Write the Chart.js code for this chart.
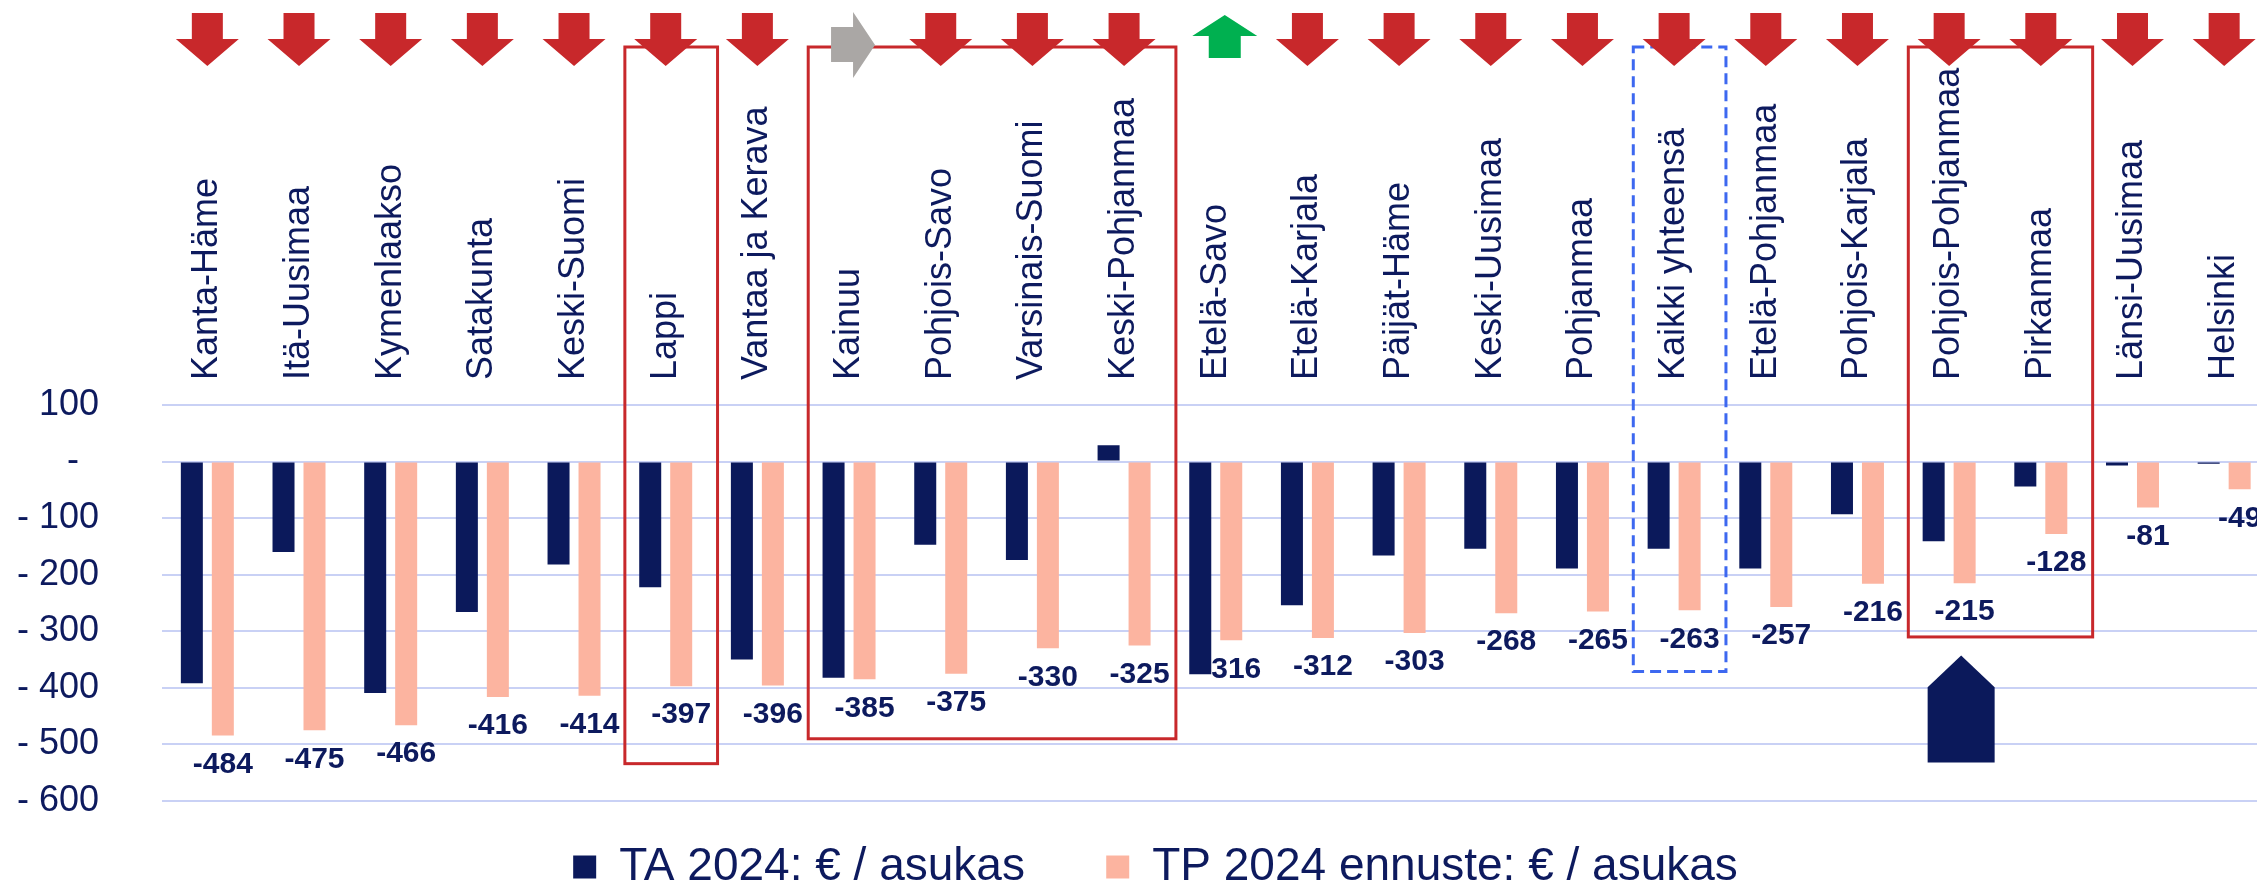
<!DOCTYPE html>
<html><head><meta charset="utf-8">
<script src="https://cdn.jsdelivr.net/npm/chart.js@4.4.1/dist/chart.umd.min.js"></script>
<style>
html,body{margin:0;padding:0;background:#ffffff;overflow:hidden}
#wrap{width:2257px;height:889px;overflow:hidden;position:relative;background:#fff}
canvas{display:block}
</style>
</head><body>
<div id="wrap"><canvas id="c" width="2270" height="900"></canvas></div>
<script>
// ---- data ----
const categories = ['Kanta-Häme','Itä-Uusimaa','Kymenlaakso','Satakunta','Keski-Suomi','Lappi','Vantaa ja Kerava','Kainuu','Pohjois-Savo','Varsinais-Suomi','Keski-Pohjanmaa','Etelä-Savo','Etelä-Karjala','Päijät-Häme','Keski-Uusimaa','Pohjanmaa','Kaikki yhteensä','Etelä-Pohjanmaa','Pohjois-Karjala','Pohjois-Pohjanmaa','Pirkanmaa','Länsi-Uusimaa','Helsinki'];
const taValues = [-392,-160,-409,-266,-182,-222,-350,-382,-147,-174,29,-376,-254,-166,-154,-189,-154,-189,-93,-141,-44,-7,-4];
const tpValues = [-484,-475,-466,-416,-414,-397,-396,-385,-375,-330,-325,-316,-312,-303,-268,-265,-263,-257,-216,-215,-128,-81,-49];
const trend = ['down','down','down','down','down','down','down','right','down','down','down','up','down','down','down','down','down','down','down','down','down','down','down'];
const seriesNames = ['TA 2024: € / asukas','TP 2024 ennuste: € / asukas'];
const yTickValues = [100,0,-100,-200,-300,-400,-500,-600];

// ---- annotations (highlight frames, marker) ----
const frames = [
  {from:5, to:5, bottom:-534, kind:'red'},
  {from:7, to:10, bottom:-490, kind:'red'},
  {from:16, to:16, bottom:-371, kind:'blue'},
  {from:19, to:20, bottom:-310, kind:'red'}
];
const marker = {index:19, tip:-343, shoulder:-399, bottom:-532};

const NAVY = '#0b195b';
const SALMON = '#fcb4a0';
const TEXT = '#0d1a5e';
const RED = '#c8282b';
const FONT = '"Liberation Sans", Arial, sans-serif';
const Y_FONT_SIZE = 36;

function yLabel(v){ if (v === 0) return '-\u00a0\u00a0'; if (v < 0) return '- ' + Math.abs(v); return String(v); }

// widest y label (used to right-align mirrored labels outside the plot)
const mctx = document.createElement('canvas').getContext('2d');
mctx.font = Y_FONT_SIZE + 'px ' + FONT;
const widestY = Math.max(...yTickValues.map(v => mctx.measureText(yLabel(v)).width));

const valueLabels = {
  id:'valueLabels',
  beforeDatasetsDraw(chart){
    const ctx = chart.ctx, meta = chart.getDatasetMeta(1);
    ctx.save();
    ctx.font = 'bold 30px ' + FONT;
    ctx.fillStyle = TEXT;
    ctx.textAlign = 'center';
    ctx.textBaseline = 'middle';
    meta.data.forEach((bar,i)=>{
      ctx.fillText(String(tpValues[i]), bar.x, bar.y + 29);
    });
    ctx.restore();
  }
};

const decorations = {
  id:'decorations',
  afterDraw(chart){
    const ctx = chart.ctx, xs = chart.scales.x, ys = chart.scales.y;
    const cw = xs.getPixelForValue(1) - xs.getPixelForValue(0);
    ctx.save();
    frames.forEach(f=>{
      const l = xs.getPixelForValue(f.from) - cw/2 + 5;
      const r = xs.getPixelForValue(f.to) + cw/2 + 6;
      const t = 47, b = ys.getPixelForValue(f.bottom);
      ctx.lineWidth = 3;
      if (f.kind === 'blue') { ctx.strokeStyle = '#3d68f0'; ctx.setLineDash([11,6]); }
      else { ctx.strokeStyle = RED; ctx.setLineDash([]); }
      ctx.strokeRect(l, t, r-l, b-t);
    });
    ctx.setLineDash([]);
    trend.forEach((d,i)=>{
      const cx = xs.getPixelForValue(i);
      ctx.beginPath();
      if (d === 'down') {
        ctx.fillStyle = RED;
        ctx.moveTo(cx-15.5,13); ctx.lineTo(cx+15.5,13); ctx.lineTo(cx+15.5,39);
        ctx.lineTo(cx+31.5,39); ctx.lineTo(cx,66); ctx.lineTo(cx-31.5,39); ctx.lineTo(cx-15.5,39);
      } else if (d === 'right') {
        const ax = cx + 4;
        ctx.fillStyle = '#aaa7a5';
        ctx.moveTo(ax-22,27); ctx.lineTo(ax,27); ctx.lineTo(ax,12); ctx.lineTo(ax+22,45);
        ctx.lineTo(ax,78); ctx.lineTo(ax,62); ctx.lineTo(ax-22,62);
      } else {
        const ax = cx + 9;
        ctx.fillStyle = '#00b050';
        ctx.moveTo(ax,15); ctx.lineTo(ax+32.5,36); ctx.lineTo(ax+16,36); ctx.lineTo(ax+16,58);
        ctx.lineTo(ax-16,58); ctx.lineTo(ax-16,36); ctx.lineTo(ax-32.5,36);
      }
      ctx.closePath(); ctx.fill();
    });
    // navy pointer
    const px = xs.getPixelForValue(marker.index) + 12;
    ctx.beginPath();
    ctx.fillStyle = NAVY;
    ctx.moveTo(px, ys.getPixelForValue(marker.tip));
    ctx.lineTo(px+33.5, ys.getPixelForValue(marker.shoulder));
    ctx.lineTo(px+33.5, ys.getPixelForValue(marker.bottom));
    ctx.lineTo(px-33.5, ys.getPixelForValue(marker.bottom));
    ctx.lineTo(px-33.5, ys.getPixelForValue(marker.shoulder));
    ctx.closePath(); ctx.fill();
    ctx.restore();
  }
};

new Chart(document.getElementById('c'), {
  type:'bar',
  data:{
    labels: categories,
    datasets:[
      {label: seriesNames[0], data: taValues, backgroundColor: NAVY, borderWidth:0, barPercentage:0.71, categoryPercentage:0.676},
      {label: seriesNames[1], data: tpValues, backgroundColor: SALMON, borderWidth:0, barPercentage:0.71, categoryPercentage:0.676}
    ]
  },
  options:{
    responsive:false,
    animation:false,
    layout:{padding:{left:41, right:0, top:0, bottom:0}},
    plugins:{
      tooltip:{enabled:false},
      legend:{
        position:'bottom',
        labels:{
          boxWidth:23, boxHeight:23, padding:43, color:TEXT,
          font:{family:FONT, size:46},
          generateLabels(chart){
            const items = Chart.defaults.plugins.legend.labels.generateLabels(chart);
            items[0].text = items[0].text + '\u00a0\u00a0\u00a0';
            return items;
          }
        }
      }
    },
    scales:{
      x:{
        position:'top',
        grid:{display:false, drawTicks:false},
        border:{display:false},
        ticks:{autoSkip:false, maxRotation:90, minRotation:90, padding:25, labelOffset:43.2, color:TEXT, font:{family:FONT, size:36, lineHeight:1.2}},
        afterFit(s){ s.height = 405; }
      },
      y:{
        min:-600, max:100,
        grid:{color:'#c9d1f5', lineWidth:2, drawTicks:false},
        border:{display:false},
        afterBuildTicks(s){ s.ticks = yTickValues.map(v=>({value:v})); },
        ticks:{
          mirror:true, crossAlign:'far',
          padding: -(62.5 + widestY),
          color:TEXT, font:{family:FONT, size:Y_FONT_SIZE},
          callback: yLabel
        },
        afterFit(s){ s.width = 120.5; }
      }
    }
  },
  plugins:[valueLabels, decorations]
});
</script>
</body></html>
